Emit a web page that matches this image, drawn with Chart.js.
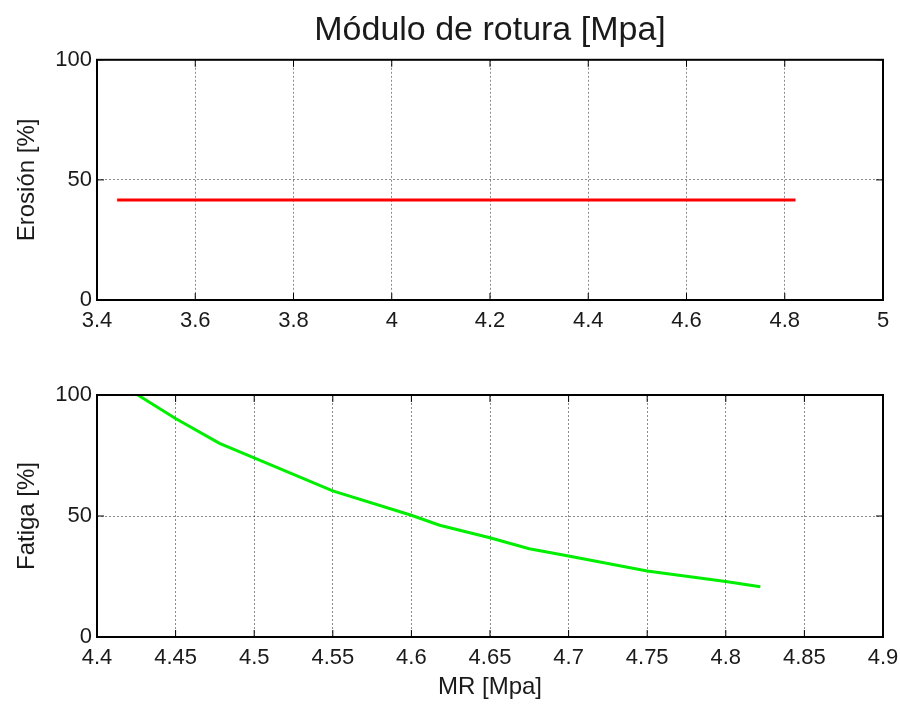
<!DOCTYPE html>
<html>
<head>
<meta charset="utf-8">
<script src="https://cdn.jsdelivr.net/npm/chart.js@4/dist/chart.umd.min.js"></script>
<style>
  body { margin: 0; background: #fff; }
  canvas { display: block; }
</style>
</head>
<body>
<canvas id="erosionChart" width="900" height="352"></canvas>
<canvas id="fatigaChart" width="900" height="353"></canvas>
<script>
/* data */
const erosionMR = [3.441, 4.822];
const erosionPct = [41.6, 41.6];
const fatigaMR = [4.426, 4.45, 4.478, 4.5, 4.55, 4.6, 4.618, 4.65, 4.675, 4.7, 4.75, 4.8, 4.822];
const fatigaPct = [100, 90.3, 80, 74, 60.4, 50.3, 46.2, 41, 36.5, 33.5, 27.3, 22.9, 20.8];
const erosionTicks = { min: 3.4, max: 5, step: 0.2 };
const fatigaTicks = { min: 4.4, max: 4.9, step: 0.05 };
const pctTicks = { min: 0, max: 100, step: 50 };

const txt = "#1a1a1a";
const font = "'Liberation Sans', Arial, sans-serif";
Chart.defaults.font.family = font;
Chart.defaults.color = txt;

const toPoints = (xs, ys) => xs.map((x, i) => ({ x: x, y: ys[i] }));

/* MATLAB-like frame with inward ticks */
const matlabBox = {
  id: "matlabBox",
  afterDraw(chart) {
    const { ctx, chartArea: a, scales: { x, y } } = chart;
    ctx.save();
    ctx.setLineDash([]);
    ctx.strokeStyle = "#000";
    ctx.lineWidth = 1;
    x.ticks.forEach(t => {
      const px = x.getPixelForValue(t.value);
      ctx.beginPath();
      ctx.moveTo(px, a.bottom); ctx.lineTo(px, a.bottom - 7);
      ctx.moveTo(px, a.top); ctx.lineTo(px, a.top + 7);
      ctx.stroke();
    });
    y.ticks.forEach(t => {
      const py = y.getPixelForValue(t.value);
      ctx.beginPath();
      ctx.moveTo(a.left, py); ctx.lineTo(a.left + 7, py);
      ctx.moveTo(a.right, py); ctx.lineTo(a.right - 7, py);
      ctx.stroke();
    });
    ctx.lineWidth = 2;
    ctx.strokeRect(a.left, a.top, a.right - a.left, a.bottom - a.top);
    ctx.restore();
  }
};

function makeOptions(xr, yTitle, xTitle, opts) {
  return {
    responsive: false,
    animation: false,
    layout: { padding: { left: 0, right: 17, top: opts.top, bottom: 0 } },
    plugins: {
      legend: { display: false },
      tooltip: { enabled: false },
      title: opts.title
    },
    scales: {
      x: {
        type: "linear",
        min: xr.min,
        max: xr.max,
        ticks: {
          stepSize: xr.step,
          font: { size: 22 },
          padding: 8,
          maxRotation: 0,
          autoSkip: false,
          callback: v => String(+v.toFixed(2))
        },
        grid: { color: "rgba(0,0,0,0.45)", lineWidth: 1, drawTicks: false },
        border: { display: false, dash: [2, 2] },
        title: xTitle,
        afterFit: s => { s.height = opts.xh; s.paddingLeft = 0; s.paddingRight = 0; }
      },
      y: {
        min: pctTicks.min,
        max: pctTicks.max,
        ticks: { stepSize: pctTicks.step, font: { size: 22 }, padding: 5 },
        grid: { color: "rgba(0,0,0,0.45)", lineWidth: 1, drawTicks: false },
        border: { display: false, dash: [2, 2] },
        title: { display: true, text: yTitle, font: { size: 24 }, padding: { top: 13, bottom: 0 } },
        afterFit: s => { s.width = 97; s.paddingTop = 0; s.paddingBottom = 0; }
      }
    }
  };
}

new Chart(document.getElementById("erosionChart"), {
  type: "line",
  data: {
    datasets: [{
      data: toPoints(erosionMR, erosionPct),
      borderColor: "#ff0000",
      borderWidth: 3,
      pointRadius: 0,
      tension: 0
    }]
  },
  options: makeOptions(erosionTicks, "Erosión [%]", { display: false }, {
    top: 0,
    xh: 52,
    title: {
      display: true,
      fullSize: false,
      text: "Módulo de rotura [Mpa]",
      font: { size: 34, weight: "normal" },
      color: txt,
      padding: { top: 10, bottom: 9 }
    }
  }),
  plugins: [matlabBox]
});

new Chart(document.getElementById("fatigaChart"), {
  type: "line",
  data: {
    datasets: [{
      data: toPoints(fatigaMR, fatigaPct),
      borderColor: "#00ee00",
      borderWidth: 3,
      pointRadius: 0,
      tension: 0
    }]
  },
  options: makeOptions(fatigaTicks, "Fatiga [%]",
    { display: true, text: "MR [Mpa]", font: { size: 24 }, padding: { top: 0, bottom: 3 } },
    { top: 43, xh: 68, title: { display: false } }),
  plugins: [matlabBox]
});
</script>
</body>
</html>
